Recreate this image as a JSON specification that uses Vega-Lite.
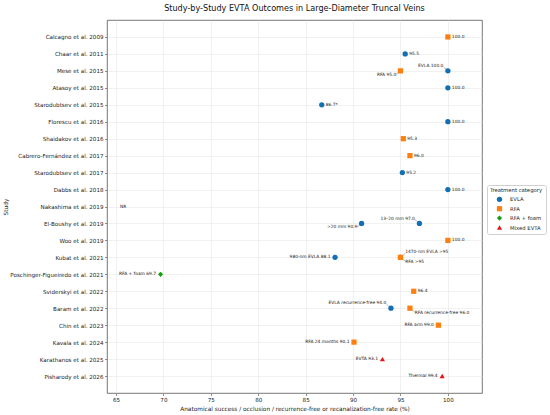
{
  "$schema": "https://vega.github.io/schema/vega-lite/v6.json",
  "width": 375,
  "height": 373,
  "autosize": {"type": "none"},
  "padding": {"left": 107, "top": 20, "right": 68, "bottom": 22},
  "background": "white",
  "config": {
    "font": "DejaVu Sans",
    "view": {"stroke": "#555555", "strokeWidth": 0.8},
    "axis": {
      "labelFont": "DejaVu Sans",
      "titleFont": "DejaVu Sans",
      "labelFontSize": 5.6,
      "titleFontSize": 5.8,
      "titleFontWeight": "normal",
      "labelColor": "#222222",
      "titleColor": "#222222",
      "tickColor": "#444444",
      "tickSize": 2.5,
      "tickWidth": 0.6,
      "domain": false,
      "gridColor": "#e8e8e8",
      "gridWidth": 0.6
    },
    "legend": {
      "labelFont": "DejaVu Sans",
      "titleFont": "DejaVu Sans"
    }
  },
  "title": {
    "text": "Study-by-Study EVTA Outcomes in Large-Diameter Truncal Veins",
    "fontSize": 8.1,
    "fontWeight": "normal",
    "font": "DejaVu Sans",
    "color": "#111111",
    "anchor": "middle",
    "offset": 7
  },
  "data": {
    "values": [
      {"study": "Calcagno et al. 2009", "treatment": "RFA", "value": 100.0, "label": "100.0"},
      {"study": "Chaar et al. 2011", "treatment": "EVLA", "value": 95.5, "label": "95.5"},
      {"study": "Mese et al. 2015", "treatment": "RFA", "value": 95.0, "label": "RFA 95.0"},
      {"study": "Mese et al. 2015", "treatment": "EVLA", "value": 100.0, "label": "EVLA 100.0"},
      {"study": "Atasoy et al. 2015", "treatment": "EVLA", "value": 100.0, "label": "100.0"},
      {"study": "Starodubtsev et al. 2015", "treatment": "EVLA", "value": 86.7, "label": "86.7*"},
      {"study": "Florescu et al. 2016", "treatment": "EVLA", "value": 100.0, "label": "100.0"},
      {"study": "Shaidakov et al. 2016", "treatment": "RFA", "value": 95.3, "label": "95.3"},
      {"study": "Cabrero-Fernández et al. 2017", "treatment": "RFA", "value": 96.0, "label": "96.0"},
      {"study": "Starodubtsev et al. 2017", "treatment": "EVLA", "value": 95.2, "label": "95.2"},
      {"study": "Dabbs et al. 2018", "treatment": "EVLA", "value": 100.0, "label": "100.0"},
      {"study": "Nakashima et al. 2019", "treatment": null, "value": null, "label": "NR"},
      {"study": "El-Boushy et al. 2019", "treatment": "EVLA", "value": 90.9, "label": ">20 mm 90.9"},
      {"study": "El-Boushy et al. 2019", "treatment": "EVLA", "value": 97.0, "label": "13–20 mm 97.0"},
      {"study": "Woo et al. 2019", "treatment": "RFA", "value": 100.0, "label": "100.0"},
      {"study": "Kubat et al. 2021", "treatment": "EVLA", "value": 88.1, "label": "980-nm EVLA 88.1"},
      {"study": "Kubat et al. 2021", "treatment": "EVLA", "value": 95.0, "label": "1470-nm EVLA >95"},
      {"study": "Kubat et al. 2021", "treatment": "RFA", "value": 95.0, "label": "RFA >95"},
      {"study": "Poschinger-Figueiredo et al. 2021", "treatment": "RFA + foam", "value": 69.7, "label": "RFA + foam 69.7"},
      {"study": "Sviderskyi et al. 2022", "treatment": "RFA", "value": 96.4, "label": "96.4"},
      {"study": "Baram et al. 2022", "treatment": "EVLA", "value": 94.0, "label": "EVLA recurrence-free 94.0"},
      {"study": "Baram et al. 2022", "treatment": "RFA", "value": 96.0, "label": "RFA recurrence-free 96.0"},
      {"study": "Chin et al. 2023", "treatment": "RFA", "value": 99.0, "label": "RFA arm 99.0"},
      {"study": "Kavala et al. 2024", "treatment": "RFA", "value": 90.1, "label": "RFA 24 months 90.1"},
      {"study": "Karathanos et al. 2025", "treatment": "Mixed EVTA", "value": 93.1, "label": "EVTA 93.1"},
      {"study": "Pisharody et al. 2026", "treatment": "Mixed EVTA", "value": 99.4, "label": "Thermal 99.4"}
    ]
  },
  "encoding": {
    "y": {
      "field": "study",
      "type": "nominal",
      "sort": null,
      "title": "Study",
      "scale": {
        "type": "point",
        "padding": 1,
        "domain": [
          "Calcagno et al. 2009", "Chaar et al. 2011", "Mese et al. 2015", "Atasoy et al. 2015",
          "Starodubtsev et al. 2015", "Florescu et al. 2016", "Shaidakov et al. 2016",
          "Cabrero-Fernández et al. 2017", "Starodubtsev et al. 2017", "Dabbs et al. 2018",
          "Nakashima et al. 2019", "El-Boushy et al. 2019", "Woo et al. 2019", "Kubat et al. 2021",
          "Poschinger-Figueiredo et al. 2021", "Sviderskyi et al. 2022", "Baram et al. 2022",
          "Chin et al. 2023", "Kavala et al. 2024", "Karathanos et al. 2025", "Pisharody et al. 2026"
        ]
      },
      "axis": {"grid": true, "labelPadding": 1.5, "titlePadding": 1}
    }
  },
  "layer": [
    {
      "transform": [{"filter": {"field": "label", "oneOf": ["EVLA 100.0", "13–20 mm 97.0", "EVLA recurrence-free 94.0"]}}],
      "mark": {"type": "rule", "color": "#777777", "strokeWidth": 0.5, "x2Offset": -4.5, "y2Offset": -4},
      "encoding": {
        "x": {"field": "value", "type": "quantitative"},
        "x2": {"field": "value"},
        "y2": {"field": "study"}
      }
    },
    {
      "transform": [{"filter": {"field": "label", "oneOf": ["RFA 95.0", ">20 mm 90.9"]}}],
      "mark": {"type": "rule", "color": "#777777", "strokeWidth": 0.5, "x2Offset": -4.5, "y2Offset": 3.5},
      "encoding": {
        "x": {"field": "value", "type": "quantitative"},
        "x2": {"field": "value"},
        "y2": {"field": "study"}
      }
    },
    {
      "transform": [{"filter": {"field": "label", "oneOf": ["1470-nm EVLA >95"]}}],
      "mark": {"type": "rule", "color": "#777777", "strokeWidth": 0.5, "x2Offset": 5, "y2Offset": -4},
      "encoding": {
        "x": {"field": "value", "type": "quantitative"},
        "x2": {"field": "value"},
        "y2": {"field": "study"}
      }
    },
    {
      "transform": [{"filter": {"field": "label", "oneOf": ["RFA >95", "RFA recurrence-free 96.0"]}}],
      "mark": {"type": "rule", "color": "#777777", "strokeWidth": 0.5, "x2Offset": 5, "y2Offset": 4},
      "encoding": {
        "x": {"field": "value", "type": "quantitative"},
        "x2": {"field": "value"},
        "y2": {"field": "study"}
      }
    },
    {
      "transform": [{"filter": "isValid(datum.value)"}],
      "mark": {"type": "point", "filled": true, "opacity": 1},
      "encoding": {
        "x": {
          "field": "value",
          "type": "quantitative",
          "title": "Anatomical success / occlusion / recurrence-free or recanalization-free rate (%)",
          "scale": {"domain": [64.05, 103.6], "nice": false, "zero": false},
          "axis": {"values": [65, 70, 75, 80, 85, 90, 95, 100], "grid": true, "labelPadding": 2, "titlePadding": 2.5}
        },
        "color": {
          "field": "treatment",
          "type": "nominal",
          "title": "Treatment category",
          "scale": {"domain": ["EVLA", "RFA", "RFA + foam", "Mixed EVTA"], "range": ["#1170b3", "#ff7f0e", "#14a014", "#e8141c"]}
        },
        "size": {
          "field": "treatment",
          "type": "nominal",
          "title": "Treatment category",
          "scale": {"domain": ["EVLA", "RFA", "RFA + foam", "Mixed EVTA"], "range": [28, 26, 55, 30]}
        },
        "shape": {
          "field": "treatment",
          "type": "nominal",
          "title": "Treatment category",
          "scale": {"domain": ["EVLA", "RFA", "RFA + foam", "Mixed EVTA"], "range": ["circle", "square", "diamond", "triangle-up"]},
          "legend": {
            "orient": "none",
            "legendX": 380,
            "legendY": 165,
            "titleFontSize": 5.3,
            "titleFontWeight": "normal",
            "titleColor": "#222222",
            "labelFontSize": 5.3,
            "labelColor": "#222222",
            "symbolOpacity": 1,
            "rowPadding": 2.4,
            "titlePadding": 2.5,
            "padding": 3,
            "symbolOffset": 6,
            "labelOffset": 7,
            "strokeColor": "#d0d0d0",
            "fillColor": "white",
            "cornerRadius": 2
          }
        }
      }
    },
    {
      "transform": [{"filter": {"field": "label", "oneOf": ["100.0", "95.5", "86.7*", "95.3", "96.0", "95.2", "96.4"]}}],
      "mark": {"type": "text", "align": "left", "baseline": "middle", "dx": 4, "fontSize": 4.4, "color": "#222222"},
      "encoding": {"x": {"field": "value", "type": "quantitative"}, "text": {"field": "label"}}
    },
    {
      "transform": [{"filter": {"field": "label", "oneOf": ["980-nm EVLA 88.1", "RFA + foam 69.7", "RFA arm 99.0", "RFA 24 months 90.1", "EVTA 93.1", "Thermal 99.4"]}}],
      "mark": {"type": "text", "align": "right", "baseline": "middle", "dx": -4.5, "fontSize": 4.4, "color": "#222222"},
      "encoding": {"x": {"field": "value", "type": "quantitative"}, "text": {"field": "label"}}
    },
    {
      "transform": [{"filter": {"field": "label", "oneOf": ["EVLA 100.0", "13–20 mm 97.0"]}}],
      "mark": {"type": "text", "align": "right", "baseline": "middle", "dx": -4.5, "dy": -4.4, "fontSize": 4.4, "color": "#222222"},
      "encoding": {"x": {"field": "value", "type": "quantitative"}, "text": {"field": "label"}}
    },
    {
      "transform": [{"filter": {"field": "label", "oneOf": ["EVLA recurrence-free 94.0"]}}],
      "mark": {"type": "text", "align": "right", "baseline": "middle", "dx": -4.7, "dy": -5.6, "fontSize": 4.4, "color": "#222222"},
      "encoding": {"x": {"field": "value", "type": "quantitative"}, "text": {"field": "label"}}
    },
    {
      "transform": [{"filter": {"field": "label", "oneOf": ["RFA 95.0", ">20 mm 90.9"]}}],
      "mark": {"type": "text", "align": "right", "baseline": "middle", "dx": -4.2, "dy": 3.8, "fontSize": 4.4, "color": "#222222"},
      "encoding": {"x": {"field": "value", "type": "quantitative"}, "text": {"field": "label"}}
    },
    {
      "transform": [{"filter": {"field": "label", "oneOf": ["1470-nm EVLA >95"]}}],
      "mark": {"type": "text", "align": "left", "baseline": "middle", "dx": 4.7, "dy": -5.3, "fontSize": 4.4, "color": "#222222"},
      "encoding": {"x": {"field": "value", "type": "quantitative"}, "text": {"field": "label"}}
    },
    {
      "transform": [{"filter": {"field": "label", "oneOf": ["RFA >95", "RFA recurrence-free 96.0"]}}],
      "mark": {"type": "text", "align": "left", "baseline": "middle", "dx": 4.8, "dy": 4.6, "fontSize": 4.4, "color": "#222222"},
      "encoding": {"x": {"field": "value", "type": "quantitative"}, "text": {"field": "label"}}
    },
    {
      "transform": [{"filter": {"field": "label", "equal": "NR"}}],
      "mark": {"type": "text", "align": "left", "baseline": "middle", "dx": 4, "fontSize": 4.4, "color": "#222222"},
      "encoding": {"x": {"datum": 65}, "text": {"field": "label"}}
    }
  ]
}
